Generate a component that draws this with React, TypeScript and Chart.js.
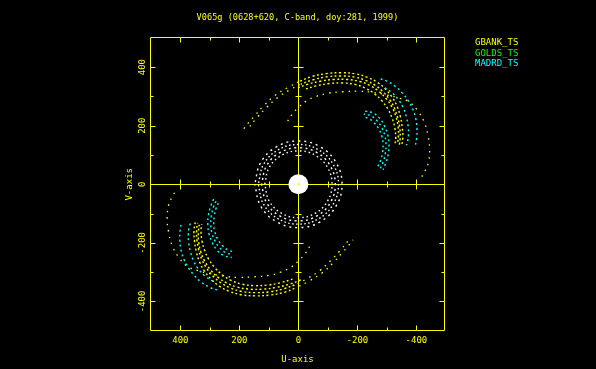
import React, { useEffect, useRef } from 'react';
import { Chart, registerables } from 'chart.js';

Chart.register(...registerables);

type P = [number, number];

// ---------- text ----------
const titleText = 'V065g (0628+620, C-band, doy:281, 1999)';
const xAxisTitle = 'U-axis';
const yAxisTitle = 'V-axis';
const stationNames = ['GBANK_TS', 'GOLDS_TS', 'MADRD_TS'];
const stationColors = ['#ffff00', '#00ff00', '#00ffff'];

// ---------- axes ----------
const uRange: P = [-497, 503]; // U axis is reversed (positive to the left)
const vRange: P = [-501, 503];
const labelTicks = [-400, -200, 0, 200, 400];
const allTicks = [-400, -300, -200, -100, 0, 100, 200, 300, 400];

// ---------- GBANK_TS (yellow) tracks, one half of the (u,v) plane ----------
const gbankFaintA: P[] = [[185, 190], [168, 212], [150, 232], [118, 268], [80, 303], [35, 331], [-5, 352]];
const gbankFaintB: P[] = [[175, 185], [140, 228], [108, 262], [72, 295], [30, 322], [-8, 342]];
const gbankRowA: P[] = [[-5, 352], [-45, 368], [-95, 378], [-145, 381], [-195, 377], [-235, 365], [-268, 348], [-295, 325], [-318, 297], [-335, 265], [-346, 230], [-352, 195], [-354, 160], [-350, 130]];
const gbankRowB: P[] = [[-8, 342], [-50, 357], [-95, 367], [-145, 370], [-192, 366], [-230, 354], [-262, 337], [-288, 315], [-310, 288], [-327, 257], [-338, 223], [-344, 190], [-345, 158], [-342, 132]];
const gbankRowC: P[] = [[10, 326], [-30, 341], [-75, 352], [-120, 358], [-165, 358], [-208, 351], [-243, 337], [-272, 318], [-298, 292], [-318, 262], [-331, 230], [-338, 196], [-339, 165], [-336, 138]];
const gbankRowD: P[] = [[-20, 324], [-60, 336], [-105, 344], [-150, 346], [-192, 341], [-228, 328], [-258, 309], [-283, 285], [-304, 256], [-318, 225], [-327, 192], [-330, 160], [-328, 136]];
const gbankOuter: P[] = [[41, 208], [22, 238], [0, 262], [-25, 283], [-60, 300], [-100, 311], [-150, 316], [-200, 318], [-250, 314], [-300, 305], [-340, 295], [-377, 280], [-406, 249], [-428, 209], [-440, 163], [-445, 118], [-440, 72], [-428, 43], [-411, 15]];

// ---------- MADRD_TS (cyan) tracks ----------
const madrdInner1: P[] = [[-226, 250], [-254, 243], [-276, 225], [-292, 199], [-303, 169], [-307, 137], [-305, 105], [-297, 74], [-287, 50]];
const madrdInner2: P[] = [[-222, 240], [-246, 234], [-266, 218], [-282, 195], [-293, 167], [-297, 137], [-295, 107], [-288, 78], [-278, 55]];
const madrdInner3: P[] = [[-218, 230], [-238, 225], [-256, 211], [-272, 190], [-283, 164], [-287, 137], [-285, 109], [-279, 82], [-269, 60]];
const madrdOuter1: P[] = [[-272, 362], [-300, 352], [-328, 335], [-352, 312], [-372, 286], [-388, 256], [-398, 224], [-402, 190], [-401, 158], [-396, 130]];
const madrdOuter2: P[] = [[-290, 332], [-318, 312], [-340, 288], [-356, 260], [-366, 230], [-372, 198], [-373, 168], [-370, 145], [-366, 133]];

// ---------- short baseline ring (white) ----------
const ring1: P[] = [[114, 0], [99, 57], [57, 99], [0, 114], [-57, 99], [-99, 57], [-114, 0], [-99, -57], [-57, -99], [0, -114], [57, -99], [99, -57], [114, 0]];
const ring2: P[] = [[125, 0], [108, 63], [63, 108], [0, 125], [-63, 108], [-108, 63], [-125, 0], [-108, -63], [-63, -108], [0, -125], [63, -108], [108, -63], [125, 0]];
const ring3: P[] = [[136, 0], [118, 68], [68, 118], [0, 136], [-68, 118], [-118, 68], [-136, 0], [-118, -68], [-68, -118], [0, -136], [68, -118], [118, -68], [136, 0]];
const ring4: P[] = [[148, 0], [128, 74], [74, 128], [0, 148], [-74, 128], [-128, 74], [-148, 0], [-128, -74], [-74, -128], [0, -148], [74, -128], [128, -74], [148, 0]];
const centre: P[] = [[0, 0]];

const toXY = (pts: P[]) => pts.map(([x, y]) => ({ x, y }));
// each visibility sample is plotted together with its conjugate (-u, -v)
const conj = (pts: P[]): P[] => pts.map(([x, y]) => [-x, -y] as P);

function track(pts: P[], color: string, width: number, dash: number[], offset = 0) {
  return {
    data: toXY(pts),
    showLine: true,
    borderColor: color,
    borderWidth: width,
    borderDash: dash,
    borderDashOffset: offset,
    pointRadius: 0,
    tension: 0.4,
    fill: false,
  };
}

const AXIS = '#ffff00';
const FONT = '9px "DejaVu Sans Mono", monospace';
const TITLE_FONT = '8.6px "DejaVu Sans Mono", monospace';

const pgplotPlugin = {
  id: 'pgplot',
  beforeDraw(chart: any) {
    const { ctx, width, height } = chart;
    ctx.save();
    ctx.fillStyle = '#000';
    ctx.fillRect(0, 0, width, height);
    ctx.restore();
  },
  beforeDatasetsDraw(chart: any) {
    const { ctx, chartArea, scales } = chart;
    const xs = scales.x, ys = scales.y;
    const L = Math.round(chartArea.left) + 0.5;
    const R = Math.round(chartArea.right) - 0.5;
    const T = Math.round(chartArea.top) + 0.5;
    const B = Math.round(chartArea.bottom) - 0.5;
    const X0 = Math.round(xs.getPixelForValue(0)) + 0.5;
    const Y0 = Math.round(ys.getPixelForValue(0)) + 0.5;
    ctx.save();
    ctx.strokeStyle = AXIS;
    ctx.lineWidth = 1;
    ctx.beginPath();
    ctx.rect(L, T, R - L, B - T);
    ctx.moveTo(X0, T); ctx.lineTo(X0, B);
    ctx.moveTo(L, Y0); ctx.lineTo(R, Y0);
    for (const v of allTicks) {
      const major = v % 200 === 0;
      const len = major ? 5 : 3;
      const px = Math.round(xs.getPixelForValue(v)) + 0.5;
      const py = Math.round(ys.getPixelForValue(v)) + 0.5;
      ctx.moveTo(px, T); ctx.lineTo(px, T + len);
      ctx.moveTo(px, B); ctx.lineTo(px, B - len);
      ctx.moveTo(L, py); ctx.lineTo(L + len, py);
      ctx.moveTo(R, py); ctx.lineTo(R - len, py);
      if (v !== 0) {
        ctx.moveTo(px, Y0 - len); ctx.lineTo(px, Y0 + len);
        ctx.moveTo(X0 - len, py); ctx.lineTo(X0 + len, py);
      }
    }
    ctx.stroke();
    ctx.restore();
  },
  afterDraw(chart: any) {
    const { ctx, chartArea, scales } = chart;
    const xs = scales.x, ys = scales.y;
    ctx.save();
    ctx.fillStyle = AXIS;
    ctx.textBaseline = 'alphabetic';
    ctx.textAlign = 'center';
    const midX = (chartArea.left + chartArea.right) / 2;
    ctx.font = TITLE_FONT;
    ctx.fillText(titleText, midX, chartArea.top - 17);
    ctx.font = FONT;
    for (const v of labelTicks) {
      ctx.fillText(String(v), xs.getPixelForValue(v), chartArea.bottom + 11.5);
    }
    ctx.fillText(xAxisTitle, midX, chartArea.bottom + 31);
    for (const v of labelTicks) {
      ctx.save();
      ctx.translate(chartArea.left - 5, ys.getPixelForValue(v));
      ctx.rotate(-Math.PI / 2);
      ctx.fillText(String(v), 0, 0);
      ctx.restore();
    }
    ctx.save();
    ctx.translate(chartArea.left - 18.5, ys.getPixelForValue(0));
    ctx.rotate(-Math.PI / 2);
    ctx.fillText(yAxisTitle, 0, 0);
    ctx.restore();
    ctx.textAlign = 'left';
    stationNames.forEach((name, i) => {
      ctx.fillStyle = stationColors[i];
      ctx.fillText(name, chartArea.right + 30, chartArea.top + 8 + i * 10.5);
    });
    ctx.restore();
  },
};

export default function App() {
  const ref = useRef<HTMLCanvasElement | null>(null);
  useEffect(() => {
    if (!ref.current) return;
    const Y = stationColors[0];
    const C = stationColors[2];
    const W = '#ffffff';
    const denseYellow = [gbankRowA, gbankRowB, gbankRowC, gbankRowD];
    const sparseYellow = [gbankFaintA, gbankFaintB, gbankOuter];
    const cyanTracks = [madrdInner1, madrdInner2, madrdInner3, madrdOuter1, madrdOuter2];
    const rings = [ring1, ring2, ring3, ring4];
    const ringDash = [[1.5, 3], [2, 3.5], [1.5, 2.5], [2, 4]];
    const datasets: any[] = [];
    datasets.push({ data: toXY(centre), pointRadius: 1.5, pointStyle: 'rect', pointBackgroundColor: Y, pointBorderWidth: 0, showLine: false });
    datasets.push({ data: toXY(centre), pointRadius: 10, pointBackgroundColor: W, pointBorderColor: W, pointBorderWidth: 0, showLine: false });
    cyanTracks.forEach((t, i) => {
      datasets.push(track(t, C, 1.4, [2, 3], i));
      datasets.push(track(conj(t), C, 1.4, [2, 3], i + 1));
    });
    denseYellow.forEach((t, i) => {
      datasets.push(track(t, Y, 1.4, [2, 2.5], i));
      datasets.push(track(conj(t), Y, 1.4, [2, 2.5], i + 2));
    });
    sparseYellow.forEach((t, i) => {
      datasets.push(track(t, Y, 1.3, [1.5, 5], i * 2));
      datasets.push(track(conj(t), Y, 1.3, [1.5, 5], i * 2 + 1));
    });
    rings.forEach((r, i) => datasets.push(track(r, W, 1.4, ringDash[i], i * 1.3)));

    const chart = new Chart(ref.current, {
      type: 'scatter',
      data: { datasets },
      plugins: [pgplotPlugin],
      options: {
        animation: false,
        responsive: false,
        devicePixelRatio: 1,
        events: [],
        layout: { padding: { left: 150, right: 151, top: 37, bottom: 38 } },
        plugins: { legend: { display: false }, tooltip: { enabled: false }, title: { display: false } },
        scales: {
          x: { type: 'linear', min: uRange[0], max: uRange[1], reverse: true, display: false },
          y: { type: 'linear', min: vRange[0], max: vRange[1], display: false },
        },
      },
    });
    return () => chart.destroy();
  }, []);
  return (
    <div style={{ position: 'fixed', left: 0, top: 0, width: 596, height: 369, background: '#000' }}>
      <canvas ref={ref} width={596} height={369} style={{ display: 'block' }} />
    </div>
  );
}
